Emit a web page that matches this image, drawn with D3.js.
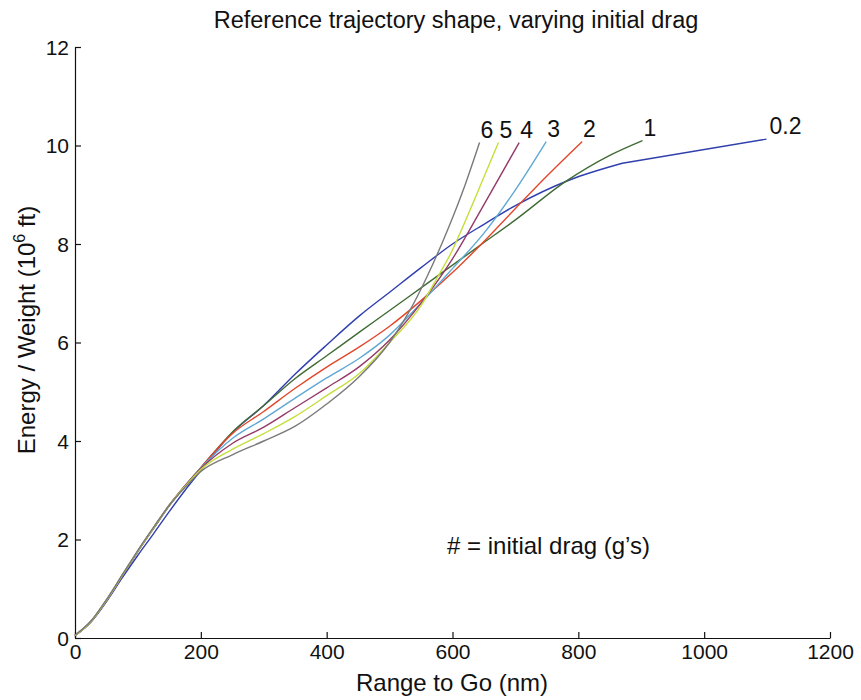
<!DOCTYPE html>
<html>
<head>
<meta charset="utf-8">
<script src="https://cdn.jsdelivr.net/npm/d3@7"></script>
<style>
  body { margin: 0; background: #fff; }
  svg { display: block; }
  text { font-family: "Liberation Sans", Arial, Helvetica, sans-serif; fill: #111; }
</style>
</head>
<body>
<svg id="chart" width="861" height="700"></svg>
<script>
// ---------- data ----------
const xTicks = [0, 200, 400, 600, 800, 1000, 1200];
const yTicks = [0, 2, 4, 6, 8, 10, 12];
const dragLabels = ["0.2", "1", "2", "3", "4", "5", "6"];
const seriesColors = ["#2f3fae", "#3f6b34", "#e2472b", "#5fa8d3", "#953a68", "#c6de3a", "#7a7a7a"];
// x where a series has a corner (straight segment afterwards); null = smooth to the end
const seriesKinkX = [870, null, null, null, null, null, null];

const startX = [0, 25, 50, 75, 100, 125, 150, 175];

const drag02X = [...startX, 200, 250, 300, 350, 400, 452, 500, 550, 600, 650, 700, 786, 870, 1099];
const drag02Y = [0.05, 0.32, 0.74, 1.22, 1.68, 2.12, 2.57, 3.0, 3.40, 4.17, 4.72, 5.36, 5.95, 6.54, 7.02, 7.52, 8.0, 8.4, 8.78, 9.30, 9.64, 10.13];

const drag1X = [...startX, 200, 250, 300, 350, 400, 452, 500, 550, 600, 650, 700, 780, 850, 902];
const drag1Y = [0.05, 0.33, 0.76, 1.26, 1.76, 2.23, 2.69, 3.09, 3.46, 4.18, 4.72, 5.27, 5.73, 6.21, 6.65, 7.11, 7.57, 8.03, 8.49, 9.27, 9.8, 10.10];

const drag2X = [...startX, 200, 250, 300, 350, 400, 452, 500, 550, 600, 650, 700, 750, 806];
const drag2Y = [0.05, 0.33, 0.76, 1.26, 1.76, 2.23, 2.69, 3.09, 3.46, 4.15, 4.6, 5.07, 5.5, 5.91, 6.33, 6.85, 7.42, 8.05, 8.72, 9.38, 10.08];

const drag3X = [...startX, 200, 250, 300, 350, 400, 452, 500, 550, 600, 650, 700, 749];
const drag3Y = [0.05, 0.33, 0.76, 1.26, 1.76, 2.23, 2.69, 3.09, 3.45, 4.05, 4.45, 4.87, 5.28, 5.68, 6.15, 6.8, 7.5, 8.22, 9.1, 10.08];

const drag4X = [...startX, 200, 250, 300, 350, 400, 452, 500, 550, 600, 650, 706];
const drag4Y = [0.05, 0.33, 0.77, 1.27, 1.77, 2.24, 2.70, 3.09, 3.44, 3.95, 4.28, 4.68, 5.08, 5.51, 6.05, 6.8, 7.7, 8.8, 10.06];

const drag5X = [...startX, 200, 250, 300, 350, 400, 452, 500, 550, 575, 600, 614, 650, 673];
const drag5Y = [0.05, 0.33, 0.77, 1.27, 1.77, 2.24, 2.70, 3.08, 3.42, 3.83, 4.15, 4.5, 4.92, 5.37, 6.0, 6.75, 7.3, 7.88, 8.28, 9.36, 10.06];

const drag6X = [...startX, 200, 250, 300, 350, 400, 452, 500, 530, 560, 592, 620, 643];
const drag6Y = [0.06, 0.34, 0.78, 1.28, 1.78, 2.25, 2.70, 3.06, 3.38, 3.72, 4.0, 4.3, 4.75, 5.31, 6.0, 6.6, 7.35, 8.28, 9.2, 10.06];

const seriesX = [drag02X, drag1X, drag2X, drag3X, drag4X, drag5X, drag6X];
const seriesY = [drag02Y, drag1Y, drag2Y, drag3Y, drag4Y, drag5Y, drag6Y];

// ---------- layout ----------
const svg = d3.select("#chart");
const x = d3.scaleLinear().domain([0, 1200]).range([75, 830]);
const y = d3.scaleLinear().domain([0, 12]).range([638, 47]);

// axes
const xAxis = d3.axisBottom(x).tickValues(xTicks).tickFormat(d3.format("d"))
  .tickSizeInner(-6).tickSizeOuter(0).tickPadding(6);
const yAxis = d3.axisLeft(y).tickValues(yTicks).tickFormat(d3.format("d"))
  .tickSizeInner(-6).tickSizeOuter(0).tickPadding(6);

const gx = svg.append("g").attr("transform", `translate(0,${y(0)})`).call(xAxis);
const gy = svg.append("g").attr("transform", `translate(${x(0)},0)`).call(yAxis);
[gx, gy].forEach(g => {
  g.selectAll("path.domain").attr("stroke", "#111").attr("stroke-width", 1.2);
  g.selectAll(".tick line").attr("stroke", "#111").attr("stroke-width", 1.2);
  g.selectAll(".tick text").attr("font-size", 21).attr("fill", "#111")
    .style("font-family", '"Liberation Sans", Arial, sans-serif');
});
gy.selectAll(".tick text").attr("dy", "0.35em");

// lines
const smooth = d3.line().x(d => x(d[0])).y(d => y(d[1])).curve(d3.curveMonotoneX);
const straight = d3.line().x(d => x(d[0])).y(d => y(d[1]));
seriesX.forEach((xs, i) => {
  const pts = xs.map((v, j) => [v, seriesY[i][j]]);
  const k = seriesKinkX[i];
  const head = k == null ? pts : pts.filter(p => p[0] <= k);
  const tail = k == null ? [] : pts.filter(p => p[0] >= k);
  let d = smooth(head);
  if (tail.length > 1) d += straight(tail).replace(/^M/, "L");
  svg.append("path")
    .attr("d", d)
    .attr("fill", "none")
    .attr("stroke", seriesColors[i])
    .attr("stroke-width", 1.4)
    .attr("stroke-linejoin", "round");
  const last = pts[pts.length - 1];
  svg.append("text")
    .attr("x", x(last[0]) + (i === 0 ? 3 : 1))
    .attr("y", y(last[1]) - 5)
    .attr("font-size", 23)
    .text(dragLabels[i]);
});

// titles
svg.append("text").attr("x", 456).attr("y", 28).attr("text-anchor", "middle")
  .attr("font-size", 23.5).text("Reference trajectory shape, varying initial drag");
svg.append("text").attr("x", 452).attr("y", 691).attr("text-anchor", "middle")
  .attr("font-size", 24).text("Range to Go (nm)");
const yl = svg.append("text").attr("transform", "translate(35,330) rotate(-90)")
  .attr("text-anchor", "middle").attr("font-size", 24);
yl.append("tspan").text("Energy / Weight (10");
yl.append("tspan").attr("font-size", 16).attr("dy", -10).text("6");
yl.append("tspan").attr("dy", 10).text(" ft)");

svg.append("text").attr("x", 447).attr("y", 554).attr("font-size", 24)
  .text("# = initial drag (g\u2019s)");
</script>
</body>
</html>
